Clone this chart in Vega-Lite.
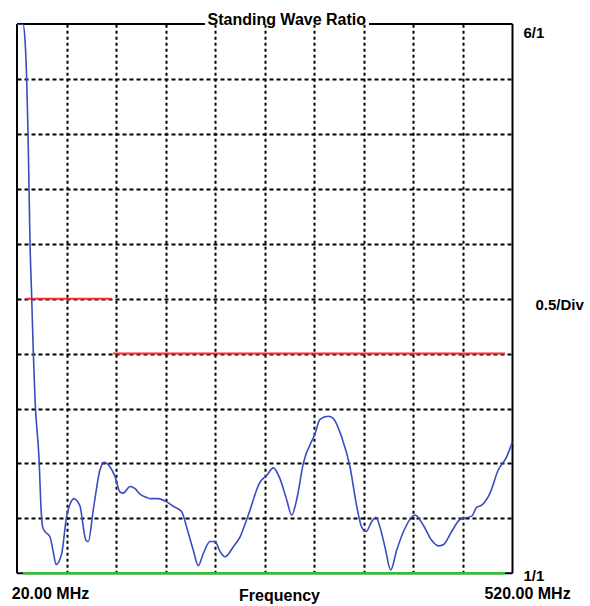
{
  "$schema": "https://vega.github.io/schema/vega-lite/v6.json",
  "description": "Standing wave ratio sweep, 20 to 520 MHz",
  "width": 495.5,
  "height": 549.3,
  "autosize": {"type": "none"},
  "padding": {"left": 17, "top": 24, "right": 77.5, "bottom": 32.7},
  "background": "white",
  "config": {
    "view": {"stroke": null},
    "font": "Liberation Sans"
  },
  "title": {
    "text": "Standing Wave Ratio",
    "anchor": "middle",
    "frame": "group",
    "dx": 22,
    "offset": -18,
    "baseline": "alphabetic",
    "fontSize": 16,
    "fontWeight": "bold",
    "color": "black",
    "font": "Liberation Sans"
  },
  "datasets": {
    "swr": [
      {"f": 20, "swr": 6.0}, {"f": 26, "swr": 6.0}, {"f": 28.1, "swr": 5.85},
      {"f": 29.8, "swr": 5.49}, {"f": 31.1, "swr": 5.01}, {"f": 32.1, "swr": 4.52},
      {"f": 33.1, "swr": 4.02}, {"f": 34.8, "swr": 3.52}, {"f": 36.4, "swr": 3.03},
      {"f": 38.2, "swr": 2.58}, {"f": 42.2, "swr": 2.05}, {"f": 44.5, "swr": 1.55},
      {"f": 45.9, "swr": 1.42}, {"f": 48.3, "swr": 1.38}, {"f": 53.3, "swr": 1.33},
      {"f": 56.5, "swr": 1.2}, {"f": 59.4, "swr": 1.08}, {"f": 65.1, "swr": 1.18},
      {"f": 70.1, "swr": 1.52}, {"f": 74.0, "swr": 1.64}, {"f": 77.5, "swr": 1.68},
      {"f": 80.5, "swr": 1.66}, {"f": 83.6, "swr": 1.61}, {"f": 89.6, "swr": 1.3},
      {"f": 91.9, "swr": 1.29}, {"f": 97.0, "swr": 1.58}, {"f": 103.7, "swr": 1.94},
      {"f": 107.8, "swr": 2.01}, {"f": 113.8, "swr": 1.97}, {"f": 118.9, "swr": 1.88},
      {"f": 123.9, "swr": 1.74}, {"f": 127.3, "swr": 1.73}, {"f": 134.0, "swr": 1.79},
      {"f": 139.1, "swr": 1.77}, {"f": 144.1, "swr": 1.72}, {"f": 150.9, "swr": 1.69},
      {"f": 154.2, "swr": 1.68}, {"f": 162.6, "swr": 1.68}, {"f": 171.0, "swr": 1.65},
      {"f": 177.7, "swr": 1.61}, {"f": 186.2, "swr": 1.56}, {"f": 191.2, "swr": 1.42},
      {"f": 197.9, "swr": 1.21}, {"f": 202.9, "swr": 1.07}, {"f": 208.0, "swr": 1.18},
      {"f": 214.7, "swr": 1.29}, {"f": 219.8, "swr": 1.29}, {"f": 224.8, "swr": 1.2},
      {"f": 229.9, "swr": 1.15}, {"f": 238.2, "swr": 1.24}, {"f": 245.0, "swr": 1.33},
      {"f": 253.4, "swr": 1.53}, {"f": 265.2, "swr": 1.83}, {"f": 271.9, "swr": 1.89},
      {"f": 278.6, "swr": 1.96}, {"f": 285.4, "swr": 1.86}, {"f": 292.1, "swr": 1.67},
      {"f": 297.2, "swr": 1.53}, {"f": 302.2, "swr": 1.67}, {"f": 308.9, "swr": 2.0},
      {"f": 320.7, "swr": 2.27}, {"f": 325.7, "swr": 2.4}, {"f": 334.1, "swr": 2.43},
      {"f": 339.1, "swr": 2.41}, {"f": 347.6, "swr": 2.24}, {"f": 356.0, "swr": 1.97},
      {"f": 362.8, "swr": 1.61}, {"f": 367.8, "swr": 1.42}, {"f": 372.2, "swr": 1.38},
      {"f": 377.9, "swr": 1.47}, {"f": 382.2, "swr": 1.51}, {"f": 386.3, "swr": 1.42},
      {"f": 391.3, "swr": 1.24}, {"f": 397.1, "swr": 1.03}, {"f": 403.1, "swr": 1.21},
      {"f": 411.5, "swr": 1.41}, {"f": 421.6, "swr": 1.53}, {"f": 429.9, "swr": 1.44},
      {"f": 438.4, "swr": 1.3}, {"f": 445.1, "swr": 1.25}, {"f": 450.1, "swr": 1.26},
      {"f": 458.6, "swr": 1.38}, {"f": 467.0, "swr": 1.49}, {"f": 478.8, "swr": 1.52},
      {"f": 483.8, "swr": 1.6}, {"f": 488.9, "swr": 1.62}, {"f": 497.3, "swr": 1.73},
      {"f": 505.6, "swr": 1.94}, {"f": 514.1, "swr": 2.06}, {"f": 520, "swr": 2.2}
    ],
    "limits": [
      {"f": 29, "f2": 115.5, "swr": 3.5},
      {"f": 117, "f2": 512.5, "swr": 3.0}
    ]
  },
  "layer": [
    {
      "data": {"name": "limits"},
      "mark": {"type": "rule", "color": "#ff2a2a", "strokeWidth": 2},
      "encoding": {
        "x": {
          "field": "f",
          "type": "quantitative",
          "scale": {"domain": [20, 520], "nice": false, "zero": false},
          "axis": {
            "orient": "top",
            "values": [70, 120, 170, 220, 270, 320, 370, 420, 470],
            "grid": true,
            "gridColor": "black",
            "gridDash": [3, 3],
            "gridWidth": 2,
            "gridOpacity": 1,
            "labels": false,
            "ticks": false,
            "domain": false,
            "minExtent": 0,
            "maxExtent": 0,
            "title": null
          }
        },
        "x2": {"field": "f2"},
        "y": {
          "field": "swr",
          "type": "quantitative",
          "scale": {"domain": [1, 6], "nice": false, "zero": false},
          "axis": {
            "orient": "left",
            "values": [1.5, 2, 2.5, 3, 3.5, 4, 4.5, 5, 5.5],
            "grid": true,
            "gridColor": "black",
            "gridDash": [4, 3],
            "gridWidth": 2,
            "gridOpacity": 1,
            "labels": false,
            "ticks": false,
            "domain": false,
            "minExtent": 0,
            "maxExtent": 0,
            "title": null
          }
        }
      }
    },
    {
      "data": {"values": [{}]},
      "mark": {"type": "rule", "color": "black", "strokeWidth": 2},
      "encoding": {
        "x": {"datum": 20, "type": "quantitative", "axis": null},
        "y": {"datum": 1, "type": "quantitative", "axis": null},
        "y2": {"datum": 6}
      }
    },
    {
      "data": {"values": [{}]},
      "mark": {"type": "rule", "color": "black", "strokeWidth": 2},
      "encoding": {
        "x": {"datum": 520, "type": "quantitative", "axis": null},
        "y": {"datum": 1, "type": "quantitative", "axis": null},
        "y2": {"datum": 6}
      }
    },
    {
      "data": {"values": [{}]},
      "mark": {"type": "rule", "color": "black", "strokeWidth": 2},
      "encoding": {
        "x": {"datum": 20, "type": "quantitative", "axis": null},
        "x2": {"datum": 209.7},
        "y": {"datum": 6, "type": "quantitative", "axis": null}
      }
    },
    {
      "data": {"values": [{}]},
      "mark": {"type": "rule", "color": "black", "strokeWidth": 2},
      "encoding": {
        "x": {"datum": 375.2, "type": "quantitative", "axis": null},
        "x2": {"datum": 520},
        "y": {"datum": 6, "type": "quantitative", "axis": null}
      }
    },
    {
      "data": {"values": [{}]},
      "mark": {"type": "rule", "color": "black", "strokeWidth": 2},
      "encoding": {
        "x": {"datum": 20, "type": "quantitative", "axis": null},
        "x2": {"datum": 520},
        "y": {"datum": 1, "type": "quantitative", "axis": null}
      }
    },
    {
      "data": {"values": [{}]},
      "mark": {"type": "rule", "color": "#2fbf2f", "strokeWidth": 2.5},
      "encoding": {
        "x": {"datum": 26, "type": "quantitative", "axis": null},
        "x2": {"datum": 512.5},
        "y": {"datum": 1, "type": "quantitative", "axis": null}
      }
    },
    {
      "data": {"name": "swr"},
      "mark": {"type": "line", "color": "#3a4cc0", "strokeWidth": 1.6, "interpolate": "monotone", "clip": true},
      "encoding": {
        "x": {
          "field": "f",
          "type": "quantitative",
          "axis": {
            "orient": "bottom",
            "values": [20, 520],
            "labelExpr": "format(datum.value, '.2f') + ' MHz'",
            "labelFont": "Liberation Sans",
            "labelFontSize": 16,
            "labelFontWeight": "bold",
            "labelColor": "black",
            "labelAlign": "center",
            "labelBaseline": "alphabetic",
            "labelFlush": false,
            "labelOverlap": false,
            "labelPadding": 25.5,
            "labelOffset": {"condition": {"test": "datum.value < 100", "value": 33}, "value": 14.5},
            "ticks": false,
            "tickSize": 0,
            "domain": false,
            "grid": false,
            "title": "Frequency",
            "titleFont": "Liberation Sans",
            "titleFontSize": 16,
            "titleFontWeight": "bold",
            "titleColor": "black",
            "titleBaseline": "alphabetic",
            "titleX": 262,
            "titleY": 27.5
          }
        },
        "y": {
          "field": "swr",
          "type": "quantitative",
          "axis": {
            "orient": "right",
            "values": [1, 3.5, 6],
            "labelExpr": "datum.value == 6 ? '6/1' : (datum.value == 1 ? '1/1' : '0.5/Div')",
            "labelFont": "Liberation Sans",
            "labelFontSize": 15,
            "labelFontWeight": "bold",
            "labelColor": "black",
            "labelAlign": "left",
            "labelBaseline": "middle",
            "labelOverlap": false,
            "labelPadding": {"condition": {"test": "datum.value == 3.5", "value": 22.5}, "value": 10.5},
            "labelOffset": {"condition": [{"test": "datum.value == 6", "value": 8}, {"test": "datum.value == 3.5", "value": 6}], "value": 2},
            "ticks": false,
            "tickSize": 0,
            "domain": false,
            "grid": false,
            "title": null
          }
        }
      }
    }
  ]
}
